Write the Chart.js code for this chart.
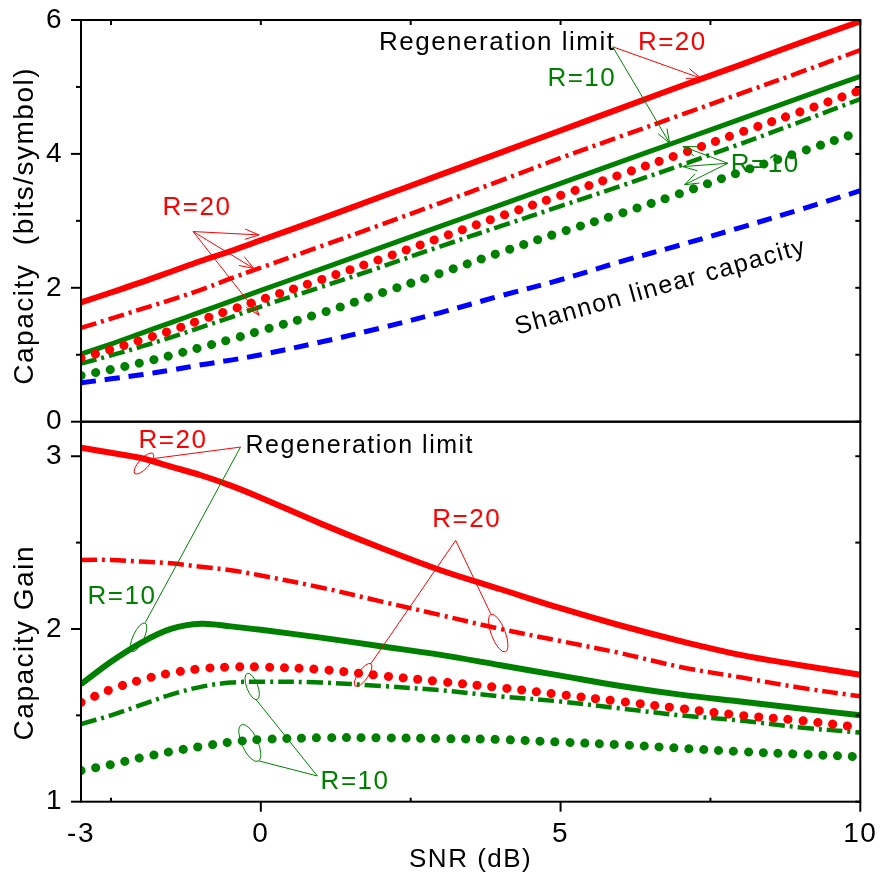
<!DOCTYPE html>
<html>
<head>
<meta charset="utf-8">
<script src="https://cdn.jsdelivr.net/npm/chart.js@4"></script>
<style>
  html, body { margin: 0; padding: 0; background: #fff; }
  #wrap { width: 882px; height: 879px; }
</style>
</head>
<body>
<div id="wrap"><canvas id="myChart"></canvas></div>
<script>
// SNR (dB) sample points
const snr = [-3, -2.5, -2, -1.5, -1, -0.5, 0, 1, 2, 3, 4, 5, 6, 7, 8, 9, 10];
const xTicks = [-3, 0, 5, 10];
const capTicks = [0, 2, 4, 6];
const gainTicks = [1, 2, 3];

// top panel: capacity (bits/symbol)
const capShannon = [0.58, 0.64, 0.70, 0.77, 0.85, 0.92, 1.00, 1.19, 1.40, 1.63, 1.88, 2.12, 2.39, 2.64, 2.90, 3.17, 3.45];
const capLimit20 = [1.78, 1.93, 2.08, 2.24, 2.40, 2.55, 2.71, 3.03, 3.36, 3.69, 4.02, 4.35, 4.68, 5.01, 5.33, 5.66, 5.98];
const capLimit10 = [1.01, 1.16, 1.32, 1.48, 1.64, 1.80, 1.96, 2.28, 2.60, 2.92, 3.24, 3.56, 3.88, 4.20, 4.52, 4.84, 5.16];
const capDashDot20 = [1.40, 1.54, 1.68, 1.82, 1.97, 2.14, 2.30, 2.62, 2.94, 3.27, 3.60, 3.94, 4.26, 4.58, 4.90, 5.22, 5.55];
const capDashDot10 = [0.87, 0.99, 1.12, 1.26, 1.41, 1.56, 1.72, 2.01, 2.31, 2.62, 2.92, 3.22, 3.52, 3.83, 4.15, 4.48, 4.82];
const capDot20 = [0.95, 1.08, 1.22, 1.36, 1.52, 1.67, 1.82, 2.12, 2.43, 2.75, 3.07, 3.38, 3.69, 4.00, 4.32, 4.63, 4.95];
const capDot10 = [0.69, 0.78, 0.88, 0.99, 1.11, 1.23, 1.36, 1.62, 1.92, 2.22, 2.53, 2.83, 3.11, 3.41, 3.73, 4.03, 4.33];

// bottom panel: capacity gain
const gainLimit20 = [3.05, 3.02, 2.99, 2.94, 2.89, 2.83, 2.76, 2.61, 2.47, 2.34, 2.23, 2.12, 2.02, 1.93, 1.85, 1.79, 1.735];
const gainLimit10 = [1.68, 1.81, 1.92, 2.00, 2.03, 2.015, 1.995, 1.95, 1.90, 1.85, 1.79, 1.73, 1.67, 1.62, 1.58, 1.54, 1.50];
const gainDashDot20 = [2.40, 2.40, 2.39, 2.38, 2.36, 2.34, 2.31, 2.24, 2.16, 2.08, 2.00, 1.93, 1.86, 1.78, 1.72, 1.66, 1.61];
const gainDashDot10 = [1.45, 1.50, 1.56, 1.62, 1.665, 1.69, 1.695, 1.69, 1.67, 1.645, 1.61, 1.58, 1.54, 1.50, 1.47, 1.43, 1.40];
const gainDot20 = [1.575, 1.65, 1.705, 1.745, 1.77, 1.78, 1.78, 1.765, 1.73, 1.695, 1.66, 1.62, 1.58, 1.54, 1.50, 1.47, 1.43];
const gainDot10 = [1.18, 1.215, 1.255, 1.29, 1.32, 1.345, 1.36, 1.37, 1.37, 1.365, 1.36, 1.345, 1.33, 1.31, 1.29, 1.275, 1.26];

const RED = "#ff0000";
const GREEN = "#008000";
const BLUE = "#0000ff";
const FONT = "'Liberation Sans', Arial, sans-serif";

const pts = (ys) => ys.map((y, i) => ({ x: snr[i], y: y }));

const solid = (label, ys, axis, color, w) => ({
  label, data: pts(ys), yAxisID: axis, borderColor: color, borderWidth: w,
});
const dashDot = (label, ys, axis, color) => ({
  label, data: pts(ys), yAxisID: axis, borderColor: color, borderWidth: 4.5,
  borderDash: [16, 5, 3, 5],
});
const dotted = (label, ys, axis, color) => ({
  label, data: pts(ys), yAxisID: axis, borderColor: color, borderWidth: 9,
  borderDash: [0.1, 14.8], borderCapStyle: "round",
});

const datasets = [
  dotted("R=20 dotted", capDot20, "cap", RED),
  dashDot("R=10 dash-dot", capDashDot10, "cap", GREEN),
  solid("R=10 regeneration limit", capLimit10, "cap", GREEN, 5),
  dashDot("R=20 dash-dot", capDashDot20, "cap", RED),
  solid("R=20 regeneration limit", capLimit20, "cap", RED, 6),
  dotted("R=10 dotted", capDot10, "cap", GREEN),
  {
    label: "Shannon linear capacity", data: pts(capShannon), yAxisID: "cap",
    borderColor: BLUE, borderWidth: 5, borderDash: [15, 9],
  },
  dotted("R=20 dotted gain", gainDot20, "gain", RED),
  dashDot("R=10 dash-dot gain", gainDashDot10, "gain", GREEN),
  solid("R=10 limit gain", gainLimit10, "gain", GREEN, 6),
  dashDot("R=20 dash-dot gain", gainDashDot20, "gain", RED),
  solid("R=20 limit gain", gainLimit20, "gain", RED, 6),
  dotted("R=10 dotted gain", gainDot10, "gain", GREEN),
];

// annotation texts, arrows and ellipses (data coords of their panel)
const texts = [
  { s: "cap", x: 1.97, y: 5.55, t: "Regeneration limit", c: "#000", size: 26 },
  { s: "cap", x: 6.29, y: 5.55, t: "R=20", c: RED, size: 26 },
  { s: "cap", x: 4.78, y: 5.01, t: "R=10", c: GREEN, size: 26 },
  { s: "cap", x: 7.84, y: 3.73, t: "R=10", c: GREEN, size: 26 },
  { s: "cap", x: -1.64, y: 3.09, t: "R=20", c: RED, size: 26 },
  { s: "cap", x: 4.28, y: 1.30, t: "Shannon linear capacity", c: "#000", size: 25, rot: -15.7 },
  { s: "gain", x: -2.04, y: 3.047, t: "R=20", c: RED, size: 26 },
  { s: "gain", x: -0.255, y: 3.018, t: "Regeneration limit", c: "#000", size: 25 },
  { s: "gain", x: -2.89, y: 2.147, t: "R=10", c: GREEN, size: 26 },
  { s: "gain", x: 2.86, y: 2.589, t: "R=20", c: RED, size: 26 },
  { s: "gain", x: 0.997, y: 1.074, t: "R=10", c: GREEN, size: 26 },
];
const arrows = [
  { s: "cap", c: RED, from: [5.87, 5.60], to: [[7.34, 5.13]] },
  { s: "cap", c: GREEN, from: [5.87, 5.60], to: [[6.82, 4.16]] },
  { s: "cap", c: GREEN, from: [7.79, 3.86], to: [[7.04, 4.11], [7.04, 3.81], [7.07, 3.54]] },
  { s: "cap", c: RED, from: [-1.13, 2.84], to: [[-0.03, 2.79], [-0.12, 2.29], [-0.03, 1.59]] },
];
const leaders = [
  { s: "gain", c: RED, from: [-0.339, 3.053], to: [[-1.787, 2.987]] },
  { s: "gain", c: GREEN, from: [-0.339, 3.053], to: [[-1.925, 2.039]] },
  { s: "gain", c: RED, from: [3.25, 2.513], to: [[1.831, 1.797], [3.835, 2.088]] },
  { s: "gain", c: GREEN, from: [0.942, 1.149], to: [[-0.072, 1.588], [-0.033, 1.236]] },
];
const ellipses = [
  { s: "gain", c: RED, x: -1.95, y: 2.958, a: 13.5, b: 5, ang: -47.5 },
  { s: "gain", c: GREEN, x: -2.04, y: 1.952, a: 15.7, b: 5.5, ang: -65 },
  { s: "gain", c: RED, x: 1.706, y: 1.734, a: 13.6, b: 5, ang: -55 },
  { s: "gain", c: RED, x: 3.96, y: 1.976, a: 20, b: 7, ang: 69 },
  { s: "gain", c: GREEN, x: -0.144, y: 1.667, a: 14, b: 5.5, ang: 69 },
  { s: "gain", c: GREEN, x: -0.184, y: 1.34, a: 20, b: 8, ang: 65.6 },
];

const px = (chart, s, p) => [chart.scales.x.getPixelForValue(p[0]), chart.scales[s].getPixelForValue(p[1])];

const line = (ctx, a, b) => {
  ctx.beginPath();
  ctx.moveTo(a[0], a[1]);
  ctx.lineTo(b[0], b[1]);
  ctx.stroke();
};

const arrowHead = (ctx, a, b) => {
  const ang = Math.atan2(b[1] - a[1], b[0] - a[0]);
  const len = 15;
  ctx.beginPath();
  ctx.moveTo(b[0] - len * Math.cos(ang - 0.35), b[1] - len * Math.sin(ang - 0.35));
  ctx.lineTo(b[0], b[1]);
  ctx.lineTo(b[0] - len * Math.cos(ang + 0.35), b[1] - len * Math.sin(ang + 0.35));
  ctx.stroke();
};

// no label overhang: the plot box is placed by layout.padding only
const noPad = (s) => {
  s.paddingTop = 0;
  s.paddingBottom = 0;
  s.paddingLeft = 0;
  s.paddingRight = 0;
};

const framePlugin = {
  id: "frame",
  beforeDraw(chart) {
    chart.ctx.letterSpacing = "1.5px";
  },
  afterDraw(chart) {
    const ctx = chart.ctx;
    const xs = chart.scales.x;
    const L = chart.chartArea.left;
    const R = chart.chartArea.right;
    ctx.save();
    ctx.letterSpacing = "1.5px";
    ctx.strokeStyle = "#000";
    ctx.lineWidth = 2;
    ctx.setLineDash([]);

    ["cap", "gain"].forEach((id) => {
      const sc = chart.scales[id];
      ctx.strokeRect(L, sc.top, R - L, sc.bottom - sc.top);
      const step = id === "cap" ? 1 : 0.5;
      for (let v = sc.min; v <= sc.max + 1e-6; v += step) {
        const y = sc.getPixelForValue(v);
        const major = (id === "cap" ? v % 2 === 0 : Number.isInteger(v));
        line(ctx, [L - (major ? 10 : 5), y], [L, y]);
        line(ctx, [R - 5, y], [R, y]);
      }
    });

    const capTop = chart.scales.cap.top;
    const bottom = chart.scales.gain.bottom;
    [-2.5, 0, 2.5, 5, 7.5, 10].forEach((v) => {
      const x = xs.getPixelForValue(v);
      line(ctx, [x, capTop], [x, capTop + 5]);
      if (v % 5 === 0) {
        line(ctx, [x, bottom], [x, bottom + 10]);
      } else {
        line(ctx, [x, bottom - 4], [x, bottom]);
      }
    });

    // y titles
    ctx.fillStyle = "#000";
    ctx.font = "28px " + FONT;
    ctx.textAlign = "center";
    ctx.textBaseline = "alphabetic";
    [["cap", "Capacity  (bits/symbol)", 5], ["gain", "Capacity Gain", 31]].forEach(([id, t, shift]) => {
      const sc = chart.scales[id];
      ctx.save();
      ctx.translate(33, (sc.top + sc.bottom) / 2 + shift);
      ctx.rotate(-Math.PI / 2);
      ctx.fillText(t, 0, 0);
      ctx.restore();
    });

    // annotations
    ctx.lineWidth = 1;
    arrows.concat(leaders).forEach((a) => {
      ctx.strokeStyle = a.c;
      const from = px(chart, a.s, a.from);
      a.to.forEach((t) => {
        const to = px(chart, a.s, t);
        line(ctx, from, to);
        if (arrows.includes(a)) arrowHead(ctx, from, to);
      });
    });
    ellipses.forEach((e) => {
      const c = px(chart, e.s, [e.x, e.y]);
      ctx.strokeStyle = e.c;
      ctx.beginPath();
      ctx.ellipse(c[0], c[1], e.a, e.b, e.ang * Math.PI / 180, 0, Math.PI * 2);
      ctx.stroke();
    });
    ctx.textAlign = "left";
    texts.forEach((t) => {
      const p = px(chart, t.s, [t.x, t.y]);
      ctx.fillStyle = t.c;
      ctx.font = t.size + "px " + FONT;
      ctx.save();
      ctx.translate(p[0], p[1]);
      if (t.rot) ctx.rotate(t.rot * Math.PI / 180);
      ctx.fillText(t.t, 0, 0);
      ctx.restore();
    });
    ctx.restore();
  },
};

const tickFont = { family: FONT, size: 28 };

new Chart(document.getElementById("myChart"), {
  type: "line",
  data: { datasets },
  options: {
    responsive: true,
    maintainAspectRatio: false,
    animation: false,
    events: [],
    layout: { padding: { top: 20, right: 21.7, left: 0, bottom: 0 } },
    elements: {
      point: { radius: 0 },
      line: { tension: 0.35, fill: false },
    },
    plugins: { legend: { display: false }, tooltip: { enabled: false } },
    scales: {
      x: {
        type: "linear", position: "bottom", min: -3, max: 10,
        afterBuildTicks: (s) => { s.ticks = xTicks.map((v) => ({ value: v })); },
        afterFit: (s) => { s.height = 77.3; noPad(s); },
        grid: { display: false, drawTicks: false },
        border: { display: false },
        ticks: { font: tickFont, color: "#000", padding: 16, maxRotation: 0 },
        title: { display: true, text: "SNR (dB)", color: "#000", font: { family: FONT, size: 26 }, padding: { top: 0, bottom: 4 } },
      },
      gain: {
        type: "linear", position: "left", stack: "panels", stackWeight: 380,
        min: 1, max: 3.2,
        afterBuildTicks: (s) => { s.ticks = gainTicks.map((v) => ({ value: v })); },
        afterFit: (s) => { s.width = 81; noPad(s); },
        grid: { display: false, drawTicks: false },
        border: { display: false },
        ticks: { font: tickFont, color: "#000", padding: 18 },
      },
      cap: {
        type: "linear", position: "left", stack: "panels", stackWeight: 401.7,
        min: 0, max: 6,
        afterBuildTicks: (s) => { s.ticks = capTicks.map((v) => ({ value: v })); },
        afterFit: (s) => { s.width = 81; noPad(s); },
        grid: { display: false, drawTicks: false },
        border: { display: false },
        ticks: { font: tickFont, color: "#000", padding: 18 },
      },
    },
  },
  plugins: [framePlugin],
});
</script>
</body>
</html>
